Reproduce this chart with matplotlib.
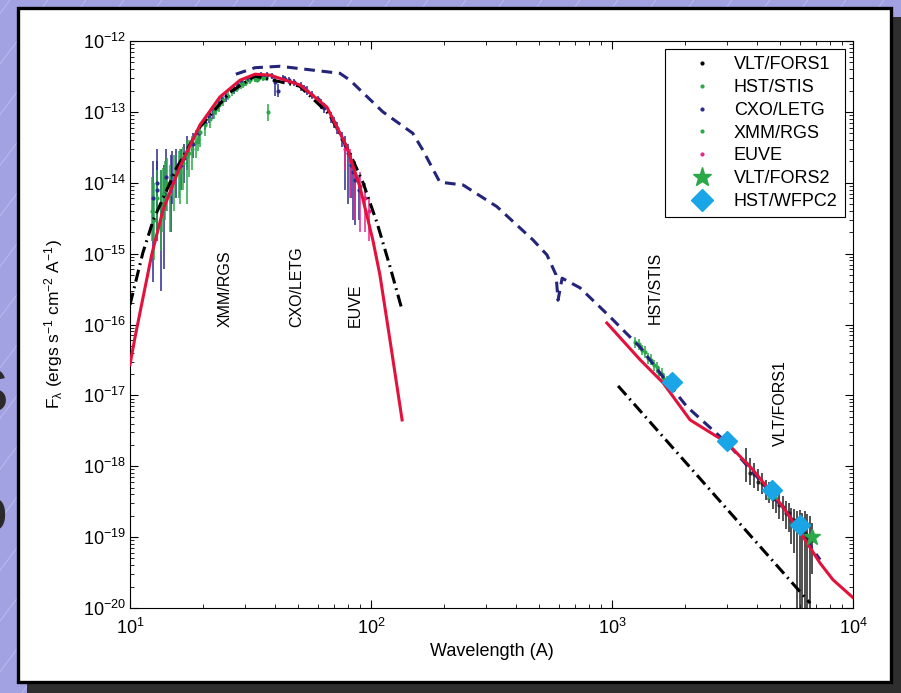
import numpy as np
import matplotlib.pyplot as plt
from matplotlib.patches import Rectangle
from matplotlib.lines import Line2D
from matplotlib.ticker import LogLocator, NullFormatter

plt.rcParams['font.family'] = ['Liberation Sans', 'DejaVu Sans']
plt.rcParams['mathtext.default'] = 'regular'

# --- model curves (wavelength in A, flux in erg/s/cm2/A) ---
red_soft_wl = [10.0, 10.5, 11.5, 12.3, 13.7, 16.1, 19.5, 23.6, 28.6, 33.0, 38.1,
               50.7, 65.6, 79.4, 90.0, 101.8, 108.9, 119.9, 134.6]
red_soft_f = [2.7e-17, 6.7e-17, 3.1e-16, 9.6e-16, 4.1e-15, 1.67e-14, 6.5e-14, 1.62e-13,
              2.8e-13, 3.4e-13, 3.3e-13, 2.4e-13, 1.17e-13, 3.2e-14, 8.7e-15, 1.55e-15,
              5.0e-16, 6.0e-17, 4.5e-18]
red_opt_wl = [952, 1306, 1629, 2109, 3000, 3846, 5125, 6447, 7300, 8260, 10000]
red_opt_f = [1.05e-16, 3.2e-17, 1.5e-17, 4.5e-18, 2.14e-18, 8.9e-19, 2.67e-19, 8.3e-20,
             4.3e-20, 2.5e-20, 1.4e-20]

dash_wl = [27.5, 33, 41.9, 74.3, 81.8, 112, 149, 164, 193, 241, 333, 470, 537, 586, 597,
           621, 736, 982, 1307, 1629, 2048, 3000, 3997, 5325, 7300]
dash_f = [3.4e-13, 4.2e-13, 4.4e-13, 3.5e-13, 2.8e-13, 1.0e-13, 5.0e-14, 2.9e-14, 1.02e-14,
          9.3e-15, 4.6e-15, 1.56e-15, 9.6e-16, 5.0e-16, 2.2e-16, 4.5e-16, 3.3e-16, 1.28e-16,
          4.8e-17, 1.82e-17, 6.9e-18, 2.14e-18, 7.1e-19, 2.2e-19, 4.8e-20]

dd_soft_wl = [10.0, 11.3, 12.5, 15.7, 19.5, 26.0, 33.0, 50.7, 67.6, 81.7, 92.7, 106, 120, 134.6]
dd_soft_f = [1.9e-16, 1.02e-15, 3.0e-15, 1.67e-14, 6.1e-14, 1.9e-13, 3.2e-13, 2.3e-13,
             9.0e-14, 2.6e-14, 1.0e-14, 2.7e-15, 6.5e-16, 1.6e-16]
dd_opt_wl = [1060, 6640]
dd_opt_f = [1.36e-17, 1.17e-20]

# --- data points (flux with lower / upper error ends) ---
letg_wl = [12.4, 12.9, 13.5, 14.1, 14.8, 15.5, 16.3, 17.2, 18.2, 19.3, 20.5, 22, 23.5, 25,
           27, 29, 31, 33, 35, 37, 39, 41, 43, 45.5, 48, 51, 54, 57, 60, 64, 68, 72, 76,
           80, 83, 86, 89,
           13.0, 13.8, 15.0, 16.8, 21.2, 24.2, 28, 36, 40, 44, 52.5, 62, 70, 78, 84.5]
letg_f = [6e-15, 1.0e-14, 5e-15, 1.2e-14, 1.0e-14, 1.6e-14, 1.8e-14, 2.8e-14, 3.5e-14, 5e-14,
          7e-14, 1.0e-13, 1.35e-13, 1.7e-13, 2.1e-13, 2.6e-13, 2.9e-13, 3.2e-13, 3.3e-13,
          3.3e-13, 3.2e-13, 2.0e-13, 3.0e-13, 2.8e-13, 2.6e-13, 2.3e-13, 2.0e-13, 1.75e-13,
          1.5e-13, 1.15e-13, 8.5e-14, 6e-14, 4.2e-14, 2.6e-14, 1.8e-14, 1.1e-14, 8e-15,
          8e-15, 7e-15, 1.3e-14, 2.2e-14, 8.5e-14, 1.5e-13, 2.4e-13, 3.1e-13, 2.6e-13,
          2.9e-13, 2.15e-13, 1.3e-13, 7.2e-14, 3.4e-14, 1.4e-14]
letg_lo = [4e-16, 2e-15, 3e-16, 4e-15, 2e-15, 6e-15, 8e-15, 1.5e-14, 2.2e-14, 3.5e-14,
           5.5e-14, 8e-14, 1.1e-13, 1.4e-13, 1.8e-13, 2.3e-13, 2.6e-13, 2.9e-13, 3.0e-13,
           3.0e-13, 2.9e-13, 1.6e-13, 2.7e-13, 2.5e-13, 2.3e-13, 2.0e-13, 1.75e-13, 1.5e-13,
           1.3e-13, 9.5e-14, 7e-14, 4.8e-14, 3.2e-14, 5e-15, 6e-15, 2.5e-15, 3e-15,
           1.5e-15, 6e-16, 5e-15, 1e-14, 7e-14, 1.3e-13, 2.1e-13, 2.8e-13, 1.7e-13,
           2.6e-13, 1.9e-13, 1.1e-13, 6e-14, 8e-15, 3e-15]
letg_hi = [2e-14, 3e-14, 1.5e-14, 3e-14, 2.5e-14, 3e-14, 3e-14, 4.5e-14, 5e-14, 6.5e-14,
           8.5e-14, 1.2e-13, 1.6e-13, 2.0e-13, 2.4e-13, 2.9e-13, 3.2e-13, 3.5e-13, 3.6e-13,
           3.6e-13, 3.5e-13, 2.5e-13, 3.3e-13, 3.1e-13, 2.9e-13, 2.6e-13, 2.3e-13, 2.0e-13,
           1.7e-13, 1.35e-13, 1.0e-13, 7.2e-14, 5.2e-14, 3.5e-14, 2.6e-14, 1.6e-14, 1.2e-14,
           2e-14, 1.8e-14, 2.8e-14, 3.5e-14, 1.0e-13, 1.7e-13, 2.7e-13, 3.4e-13, 3.1e-13,
           3.2e-13, 2.4e-13, 1.5e-13, 8.5e-14, 4.5e-14, 2e-14]

rgs_wl = [12.3, 12.9, 13.4, 14.0, 14.6, 15.2, 15.9, 16.6, 17.3, 18.0, 18.8, 19.6, 20.5,
          21.4, 22.3, 23.3, 24.3, 25.4, 26.5, 27.7, 28.9, 30.2, 31.5, 32.9, 34.3, 35.8, 37.4,
          12.6, 13.7, 14.3, 16.2, 17.6, 19.2, 22.8, 29.5, 33.6, 36.5]
rgs_f = [4e-15, 6e-15, 5e-15, 9e-15, 7e-15, 1.2e-14, 1.5e-14, 1.9e-14, 2.4e-14, 3.0e-14,
         3.8e-14, 5.2e-14, 6.5e-14, 8e-14, 1.0e-13, 1.25e-13, 1.45e-13, 1.7e-13, 1.95e-13,
         2.2e-13, 2.45e-13, 2.6e-13, 2.8e-13, 2.9e-13, 3.0e-13, 3.0e-13, 1.0e-13,
         3e-15, 7e-15, 1.0e-14, 1.4e-14, 2.6e-14, 4.2e-14, 1.1e-13, 2.5e-13, 2.85e-13, 3.05e-13]
rgs_lo = [1.5e-15, 2e-15, 1.1e-15, 3e-15, 2e-15, 4e-15, 6e-15, 8e-15, 5e-15, 1.5e-14,
          2.2e-14, 3.2e-14, 4.5e-14, 6e-14, 8e-14, 1.0e-13, 1.2e-13, 1.45e-13, 1.7e-13,
          1.9e-13, 2.1e-13, 2.3e-13, 2.5e-13, 2.6e-13, 2.7e-13, 2.7e-13, 7.5e-14,
          8e-16, 2e-15, 4e-15, 5e-15, 1.2e-14, 2.8e-14, 9e-14, 2.2e-13, 2.6e-13, 2.8e-13]
rgs_hi = [1.2e-14, 1.5e-14, 1.5e-14, 2e-14, 1.8e-14, 2.5e-14, 2.8e-14, 3.2e-14, 4e-14,
          4.5e-14, 5.5e-14, 7e-14, 8.5e-14, 1.0e-13, 1.2e-13, 1.5e-13, 1.7e-13, 2.0e-13,
          2.2e-13, 2.5e-13, 2.8e-13, 2.9e-13, 3.1e-13, 3.2e-13, 3.3e-13, 3.3e-13, 1.3e-13,
          1e-14, 1.6e-14, 2.2e-14, 3e-14, 4e-14, 6e-14, 1.3e-13, 2.8e-13, 3.1e-13, 3.3e-13]

euve_wl = [78, 82, 86, 90, 94, 98]
euve_f = [3e-14, 2.0e-14, 1.3e-14, 9e-15, 6e-15, 4e-15]
euve_lo = [1.5e-14, 6e-15, 3e-15, 2e-15, 2e-15, 1.5e-15]
euve_hi = [4e-14, 3e-14, 2e-14, 1.4e-14, 1e-14, 6e-15]

stis_wl = [1250, 1290, 1330, 1370, 1410, 1450, 1490, 1530, 1570, 1610, 1650, 1690]
stis_f = [5.6e-17, 5.3e-17, 4.4e-17, 4.1e-17, 3.4e-17, 3.2e-17, 2.7e-17, 2.5e-17, 2.1e-17,
          2.0e-17, 1.7e-17, 1.6e-17]
stis_lo = [4.6e-17, 4.4e-17, 3.7e-17, 3.4e-17, 2.8e-17, 2.7e-17, 2.2e-17, 2.1e-17, 1.75e-17,
           1.65e-17, 1.4e-17, 1.3e-17]
stis_hi = [6.6e-17, 6.3e-17, 5.2e-17, 4.9e-17, 4.0e-17, 3.8e-17, 3.2e-17, 3.0e-17, 2.5e-17,
           2.4e-17, 2.0e-17, 1.9e-17]

fors1_wl = [3600, 3750, 3900, 4050, 4200, 4350, 4500, 4650, 4800, 4950, 5100, 5250, 5400,
            5550, 5700, 5850, 6000, 6150, 6300, 6450, 6600, 6750]
fors1_f = [1.1e-18, 8e-19, 7.8e-19, 6e-19, 5.8e-19, 4.6e-19, 4.4e-19, 3.5e-19, 3.4e-19,
           2.8e-19, 2.7e-19, 2.2e-19, 2.2e-19, 1.8e-19, 1.75e-19, 1.45e-19, 1.4e-19, 1.2e-19,
           1.15e-19, 1.0e-19, 9.5e-20, 9e-20]
fors1_lo = [6e-19, 5.5e-19, 5e-19, 4.5e-19, 4e-19, 3.3e-19, 3e-19, 2.5e-19, 2.2e-19, 1.8e-19,
            1.7e-19, 1.3e-19, 1.2e-19, 8e-20, 6e-20, 3e-21, 1e-21, 1e-21, 5e-21, 1e-21, 2e-21,
            3e-20]
fors1_hi = [1.8e-18, 1.3e-18, 1.1e-18, 9e-19, 8e-19, 6.5e-19, 6e-19, 5e-19, 4.5e-19, 4e-19,
            3.8e-19, 3.2e-19, 3e-19, 2.6e-19, 2.5e-19, 2.3e-19, 2.4e-19, 2.2e-19, 2.3e-19,
            2.1e-19, 2e-19, 1.6e-19]

fors2_wl = [4600, 6750]
fors2_f = [4.4e-19, 1.0e-19]
wfpc2_wl = [1774, 3000, 4613, 6026]
wfpc2_f = [1.55e-17, 2.3e-18, 4.6e-19, 1.5e-19]

band_labels = ['XMM/RGS', 'CXO/LETG', 'EUVE', 'HST/STIS', 'VLT/FORS1']
band_label_wl = [24.8, 49.3, 85.9, 1507, 4977]
band_label_f = [9.3e-17, 9.3e-17, 9.3e-17, 1.0e-16, 1.9e-18]

c_letg = '#2b2b8e'
c_green = '#2aa84a'
c_euve = '#e6288c'
c_red = '#e3123c'
c_wfpc = '#1aa6e6'

W, H = 901, 693
fig = plt.figure(figsize=(W / 100, H / 100), dpi=100)
fig.patch.set_facecolor('#a2a2e2')

# slide background: faint diagonal lines, cut-off slide text, framed panel
for x0 in range(-700, 950, 38):
    fig.add_artist(Line2D([x0 / W, (x0 + 520) / W], [0, 1], color='#bdbdf2', lw=0.6,
                          zorder=0.1))
fig.text(8 / W, 1 - 396 / H, 'S', fontsize=45, ha='right', va='center', color='#2a2a2a',
         zorder=0.2)
fig.text(7 / W, 1 - 515 / H, 'o', fontsize=45, ha='right', va='center', color='#2a2a2a',
         zorder=0.2)
fig.add_artist(Rectangle((27 / W, 0), 874 / W, 676 / H, transform=fig.transFigure,
                         facecolor='#2e2e2e', edgecolor='none', zorder=0.5))
fig.add_artist(Rectangle((18 / W, 1 - 682 / H), 873 / W, 674 / H, transform=fig.transFigure,
                         facecolor='white', edgecolor='black', lw=2.4, zorder=1))

ax = fig.add_axes([130 / W, 1 - 608 / H, 723 / W, 567 / H])
ax.set_zorder(5)
ax.set_xscale('log')
ax.set_yscale('log')


def err(f, lo, hi):
    f = np.array(f)
    return [f - np.array(lo), np.array(hi) - f]


eb = dict(fmt='.', ms=4, elinewidth=1.1, capsize=0, zorder=2)
ax.errorbar(letg_wl, letg_f, yerr=err(letg_f, letg_lo, letg_hi), color=c_letg, **eb)
ax.errorbar(rgs_wl, rgs_f, yerr=err(rgs_f, rgs_lo, rgs_hi), color=c_green, **eb)
ax.errorbar(euve_wl, euve_f, yerr=err(euve_f, euve_lo, euve_hi), color=c_euve, **eb)
ax.errorbar(stis_wl, stis_f, yerr=err(stis_f, stis_lo, stis_hi), color=c_green, **eb)
ax.errorbar(fors1_wl, fors1_f, yerr=err(fors1_f, fors1_lo, fors1_hi), color='#222222', **eb)

ax.plot(dd_soft_wl, dd_soft_f, color='black', lw=2.2, dashes=[4, 1.6, 0.6, 1.6], zorder=3)
ax.plot(dd_opt_wl, dd_opt_f, color='black', lw=2.2, dashes=[4, 1.6, 0.6, 1.6], zorder=3)
ax.plot(dash_wl, dash_f, color='#24247a', lw=2.2, dashes=[3.5, 2.2], zorder=3)
ax.plot(red_soft_wl, red_soft_f, color=c_red, lw=2.2, zorder=4)
ax.plot(red_opt_wl, red_opt_f, color=c_red, lw=2.2, zorder=4)

ax.plot(fors2_wl, fors2_f, ls='none', marker='*', ms=12, color=c_green, zorder=5)
ax.plot(wfpc2_wl, wfpc2_f, ls='none', marker='D', ms=10, color=c_wfpc, zorder=5)

for lab, xw, yf in zip(band_labels, band_label_wl, band_label_f):
    ax.text(xw, yf, lab, rotation=90, ha='center', va='bottom', fontsize=11.5)

ax.set_xlim(10, 1e4)
ax.set_ylim(1e-20, 1e-12)
ax.xaxis.set_major_locator(LogLocator(base=10, numticks=10))
ax.xaxis.set_minor_locator(LogLocator(base=10, subs=np.arange(2, 10), numticks=100))
ax.xaxis.set_minor_formatter(NullFormatter())
ax.yaxis.set_major_locator(LogLocator(base=10, numticks=20))
ax.yaxis.set_minor_locator(LogLocator(base=10, subs=np.arange(2, 10), numticks=100))
ax.yaxis.set_minor_formatter(NullFormatter())
ax.tick_params(which='both', direction='in', top=True, right=True, labelsize=13)
ax.tick_params(which='major', length=6)
ax.tick_params(which='minor', length=3)
ax.tick_params(axis='x', pad=7)
ax.tick_params(axis='y', pad=3)
ax.set_xlabel('Wavelength (A)', fontsize=13, labelpad=4)
ax.set_ylabel(r'F$_\lambda$ (ergs s$^{-1}$ cm$^{-2}$ A$^{-1}$)', fontsize=12.5, labelpad=13)

handles = [
    Line2D([], [], ls='none', marker='.', ms=4, color='black'),
    Line2D([], [], ls='none', marker='.', ms=4, color=c_green),
    Line2D([], [], ls='none', marker='.', ms=4, color=c_letg),
    Line2D([], [], ls='none', marker='.', ms=4, color=c_green),
    Line2D([], [], ls='none', marker='.', ms=4, color=c_euve),
    Line2D([], [], ls='none', marker='*', ms=14, color=c_green),
    Line2D([], [], ls='none', marker='D', ms=11, color=c_wfpc),
]
labels = ['VLT/FORS1', 'HST/STIS', 'CXO/LETG', 'XMM/RGS', 'EUVE', 'VLT/FORS2', 'HST/WFPC2']
leg = ax.legend(handles, labels, loc='upper right', fontsize=13, frameon=True, fancybox=False,
                edgecolor='black', framealpha=1, handlelength=3.3, handletextpad=0.1,
                labelspacing=0.32, borderpad=0.4, borderaxespad=0.45)
leg.get_frame().set_linewidth(0.8)

fig.savefig('out.png', dpi=100, facecolor=fig.get_facecolor())
